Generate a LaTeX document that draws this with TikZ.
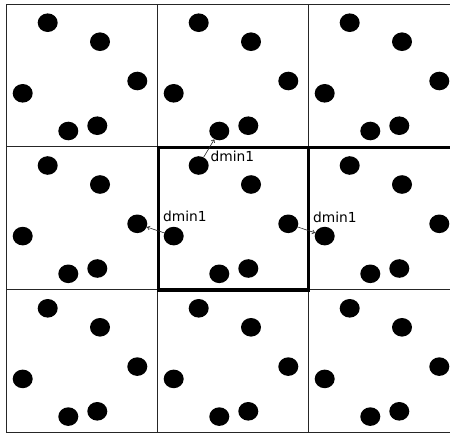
\documentclass[tikz,border=0pt]{standalone}
\usepackage{fontspec}
\setmainfont{DejaVu Sans}
\usetikzlibrary{shapes.geometric,arrows.meta}
\begin{document}
\begin{tikzpicture}[x=1pt,y=-1pt,
  dot/.style={ellipse,fill=black,draw=none,minimum width=20pt,minimum height=18.6pt,inner sep=0pt},
  gridline/.style={line width=0.9pt,black!85},
  thickline/.style={line width=3.5pt,black,line join=miter},
  link/.style={-{Straight Barb[length=2.5pt,width=4pt]},line width=0.6pt,black!85},
  lbl/.style={font=\fontsize{13.8}{16}\selectfont,inner sep=0pt,anchor=base west}]
\useasboundingbox (0,0) rectangle (450,434);
\begin{scope}
\clip (0,0) rectangle (450,434);
\foreach \r in {0,1,2,3} \draw[gridline] (6,{4+142.8*\r}) -- (460,{4+142.8*\r});
\foreach \c in {0,1,2} \draw[gridline] ({6+151*\c},4) -- ({6+151*\c},432.4);
\foreach \c in {0,1,2} {
  \foreach \r in {0,1,2} {
    \foreach [count=\k] \px/\py in {41.7/18.7, 94/37.7, 131.3/77, 16.7/89.3, 62.3/127, 91.3/121.7} {
      \node[dot] (d\c\r\k) at ({6+151*\c+\px},{4+142.8*\r+\py}) {};
    }
  }
}
\draw[thickline] (158.3,147.4) rectangle (308.3,290);
\draw[thickline] (308.3,147.4) -- (452,147.4);
\end{scope}
\draw[link] (d111) -- (d105);
\draw[link] (d114) -- (d013);
\draw[link] (d113) -- (d214);
\node[lbl] (l1) at (210.5,161.5) {dmin1};
\node[lbl] (l2) at (163,221.5) {dmin1};
\node[lbl] (l3) at (313,222.5) {dmin1};
\end{tikzpicture}
\end{document}
